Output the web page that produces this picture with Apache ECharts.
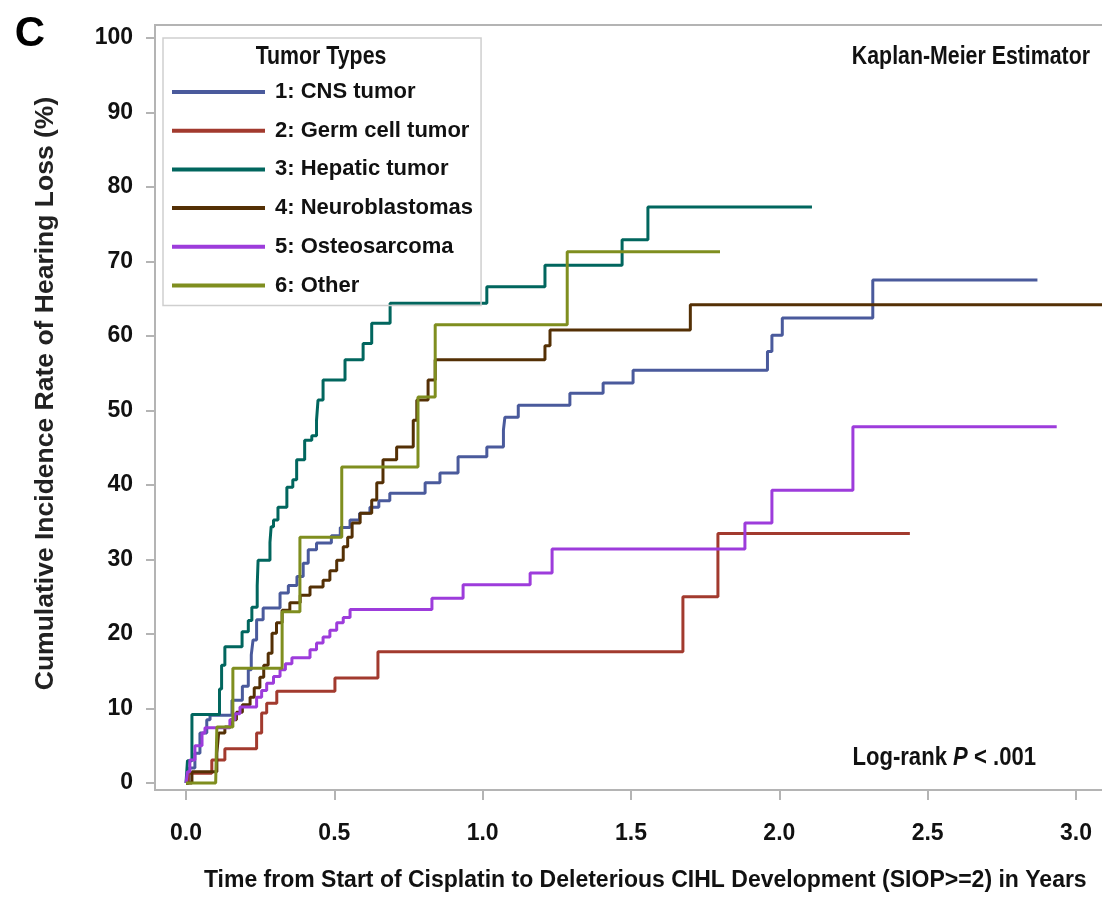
<!DOCTYPE html>
<html>
<head>
<meta charset="utf-8">
<script src="https://cdn.jsdelivr.net/npm/echarts@6/dist/echarts.min.js"></script>
<style>
html,body{margin:0;padding:0;background:#fff;}
#chart{width:1102px;height:901px;}
</style>
</head>
<body>
<div id="chart"></div>
<script>
// ---------- DATA ----------
const seriesNames = ['1: CNS tumor', '2: Germ cell tumor', '3: Hepatic tumor', '4: Neuroblastomas', '5: Osteosarcoma', '6: Other'];
const seriesColors = ['#4a5a9c', '#a23a2e', '#01665e', '#543005', '#9d3cdb', '#7f8e1f'];

// [years, cumulative incidence %]
const cnsData = [[0,0],[0.01,2],[0.03,4],[0.047,6.7],[0.07,8.5],[0.081,9.1],[0.155,11.1],[0.19,13],[0.21,15.2],[0.22,17.2],[0.226,19.2],[0.238,21.9],[0.26,23.5],[0.317,25.5],[0.345,26.5],[0.374,27.7],[0.395,29.5],[0.412,31.3],[0.44,32.2],[0.49,33.2],[0.52,34.3],[0.553,35.3],[0.585,36.2],[0.62,37],[0.65,37.9],[0.687,38.9],[0.806,40.3],[0.856,41.6],[0.917,43.8],[1.014,45.1],[1.07,47.4],[1.075,49.1],[1.12,50.7],[1.294,52.3],[1.406,53.7],[1.507,55.4],[1.96,57.9],[1.975,60.1],[2.01,62.4],[2.315,67.5],[2.87,67.5]];
const germData = [[0,0],[0.007,1.3],[0.087,3.1],[0.131,4.6],[0.238,6.7],[0.255,9.4],[0.272,10.7],[0.306,12.3],[0.502,14.1],[0.647,17.6],[1.675,25],[1.793,33.5],[2.44,33.5]];
const hepaticData = [[0,0],[0.005,3],[0.02,9.2],[0.113,12.6],[0.12,15.8],[0.131,18.3],[0.189,20.3],[0.21,21.8],[0.222,23.6],[0.24,26.5],[0.243,29.9],[0.283,32.3],[0.287,34.4],[0.295,35.3],[0.31,37],[0.34,39.7],[0.36,40.7],[0.373,43.4],[0.40,46],[0.424,46.6],[0.44,48.7],[0.445,51.4],[0.462,54.1],[0.536,56.8],[0.597,59],[0.626,61.7],[0.688,64.4],[1.014,66.6],[1.21,69.5],[1.47,72.9],[1.557,77.3],[2.11,77.3]];
const neuroData = [[0,0],[0.02,1.5],[0.104,4],[0.11,6.7],[0.131,7.5],[0.15,8.5],[0.17,9.5],[0.19,10.5],[0.216,11.5],[0.23,12.8],[0.249,14.2],[0.262,15.8],[0.277,17.4],[0.29,20.1],[0.305,21.5],[0.324,23.2],[0.35,24.2],[0.385,25.2],[0.418,26.3],[0.462,27.2],[0.485,28.5],[0.508,29.9],[0.53,31.7],[0.545,33],[0.56,34.9],[0.587,36.2],[0.626,38],[0.643,40.3],[0.664,43.4],[0.71,45.1],[0.766,48.7],[0.778,51.4],[0.816,54.1],[0.84,56.8],[1.21,58.7],[1.227,60.8],[1.70,64.2],[3.2,64.2]];
const osteoData = [[0,0],[0.005,1.5],[0.013,3.1],[0.03,5],[0.054,6.7],[0.064,7.4],[0.148,8.5],[0.165,9.3],[0.182,10.2],[0.238,11.5],[0.255,12.4],[0.272,13.4],[0.295,14.3],[0.317,15.2],[0.335,16],[0.357,16.8],[0.418,17.9],[0.44,18.8],[0.462,19.6],[0.485,20.5],[0.508,21.5],[0.53,22.2],[0.553,23.3],[0.829,24.8],[0.934,26.6],[1.16,28.2],[1.234,31.4],[1.884,34.9],[1.975,39.3],[2.248,47.8],[2.935,47.8]];
const otherData = [[0,0],[0.1,0],[0.104,7.5],[0.158,15.4],[0.324,23],[0.384,33],[0.525,42.4],[0.782,51.8],[0.84,61.5],[1.285,71.3],[1.80,71.3]];

const yTicks = [0,10,20,30,40,50,60,70,80,90,100];
const xTicks = [0,0.5,1.0,1.5,2.0,2.5,3.0];

const xAxisTitle = 'Time from Start of Cisplatin to Deleterious CIHL Development (SIOP>=2) in Years';
const yAxisTitle = 'Cumulative Incidence Rate of Hearing Loss (%)';
const legendTitle = 'Tumor Types';
const estimatorText = 'Kaplan-Meier Estimator';
const panelLetter = 'C';

// ---------- CHART ----------
const FONT = "'Liberation Sans', Arial, sans-serif";
const allData = [cnsData, germData, hepaticData, neuroData, osteoData, otherData];

const chart = echarts.init(document.getElementById('chart'), null, {renderer: 'canvas'});
const option = {
  animation: false,
  backgroundColor: '#fff',
  grid: {left: 155, top: 25, width: 956.6, height: 765, outerBoundsMode: 'none', containLabel: false,
         show: true, borderColor: '#b4b4b4', borderWidth: 2, backgroundColor: 'transparent'},
  xAxis: {
    type: 'value', min: -0.1045, max: 3.12,
    axisLine: {show: false, onZero: false},
    splitLine: {show: false},
    axisTick: {show: true, customValues: xTicks, length: 10, lineStyle: {color: '#b4b4b4', width: 2}},
    axisLabel: {customValues: xTicks, formatter: v => v.toFixed(1), margin: 32, fontFamily: FONT, fontWeight: 'bold', fontSize: 23, color: '#111'},
    name: xAxisTitle, nameLocation: 'middle', nameGap: 79,
    nameTextStyle: {fontFamily: FONT, fontWeight: 'bold', fontSize: 23, color: '#111', padding: [0,0,0,24]}
  },
  yAxis: {
    type: 'value', min: -0.94, max: 101.74,
    axisLine: {show: false, onZero: false},
    splitLine: {show: false},
    axisTick: {show: true, customValues: yTicks, length: 9, lineStyle: {color: '#b4b4b4', width: 2}},
    axisLabel: {customValues: yTicks, margin: 22, fontFamily: FONT, fontWeight: 'bold', fontSize: 23, color: '#111'},
    name: yAxisTitle, nameLocation: 'middle', nameGap: 96,
    nameTextStyle: {fontFamily: FONT, fontWeight: 'bold', fontSize: 26.5, color: '#222', padding: [0,0,0,28]}
  },
  legend: {
    data: seriesNames, orient: 'vertical', left: 163, top: 38,
    icon: 'rect', itemWidth: 93, itemHeight: 4, itemGap: 12.7,
    padding: [41, 8, 7, 9],
    borderColor: '#cfcfcf', borderWidth: 1.5,
    textStyle: {fontFamily: FONT, fontWeight: 'bold', fontSize: 22, color: '#111', lineHeight: 26, padding: [0,0,0,5]}
  },
  series: seriesNames.map((n, i) => ({
    name: n, type: 'line', step: 'end', data: allData[i],
    showSymbol: false, symbol: 'none', color: seriesColors[i],
    lineStyle: {width: 3, color: seriesColors[i]}
  })),
  graphic: [
    {type: 'text', x: 30, y: 34, style: {x: 0, y: 0, text: panelLetter, align: 'center', verticalAlign: 'middle', font: "bold 42px " + FONT, fill: '#000'}},
    {type: 'text', x: 321, y: 57, scaleX: 0.82, style: {x: 0, y: 0, text: legendTitle, align: 'center', verticalAlign: 'middle', font: "bold 26px " + FONT, fill: '#111'}},
    {type: 'text', x: 1090, y: 57, scaleX: 0.82, style: {x: 0, y: 0, text: estimatorText, align: 'right', verticalAlign: 'middle', font: "bold 26px " + FONT, fill: '#111'}},
    {type: 'text', x: 1036, y: 758, scaleX: 0.85, style: {x: 0, y: 0, align: 'right', verticalAlign: 'middle',
      text: '{a|Log-rank }{b|P}{a| < .001}',
      rich: {a: {fontFamily: FONT, fontWeight: 'bold', fontSize: 26, fill: '#111'}, b: {fontFamily: FONT, fontWeight: 'bold', fontStyle: 'italic', fontSize: 26, fill: '#111'}}}}
  ]
};
chart.setOption(option);
</script>
</body>
</html>
